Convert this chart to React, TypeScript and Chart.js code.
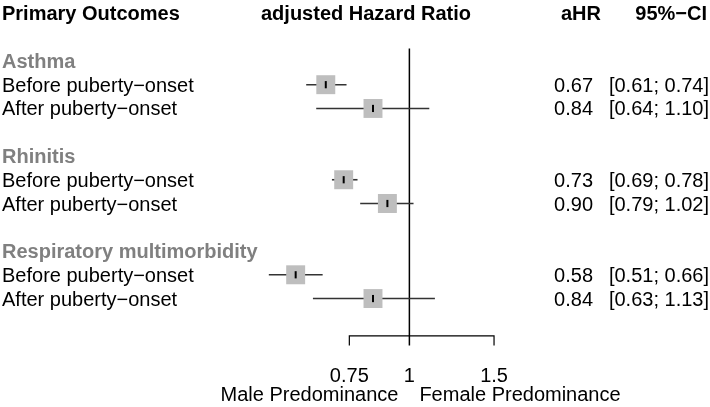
import React, { useEffect, useRef } from 'react';
import { Chart, registerables } from 'chart.js';

Chart.register(...registerables);

// ---- data ----
const groupLabels = ['Asthma', 'Rhinitis', 'Respiratory multimorbidity'];
const subgroupLabels = ['Before puberty−onset', 'After puberty−onset'];
const hazardRatios = [0.67, 0.84, 0.73, 0.9, 0.58, 0.84];
const ciLower = [0.61, 0.64, 0.69, 0.79, 0.51, 0.63];
const ciUpper = [0.74, 1.1, 0.78, 1.02, 0.66, 1.13];
const axisTicks = [0.75, 1, 1.5];
const tickLabels = ['0.75', '1', '1.5'];
const headerLabels = ['Primary Outcomes', 'adjusted Hazard Ratio', 'aHR', '95%−CI'];
const leftAxisLabel = 'Male Predominance';
const rightAxisLabel = 'Female Predominance';

// ---- layout helpers ----
const FONT = '"Liberation Sans", Arial, Helvetica, sans-serif';
const rowOf = (i: number) => 4 * Math.floor(i / 2) + 3 + (i % 2);
const groupRow = (g: number) => 4 * g + 2;
const AXIS_ROW = 13.57;
const TICK_END_ROW = 13.98;
const REF_TOP_ROW = 1.48;
const ROW_PX = 24.16;
const ROW0_PX = 12.2;

const textPlugin = {
  id: 'forestText',
  afterDatasetsDraw(chart: any) {
    const ctx = chart.ctx;
    const xs = chart.scales.x;
    const ys = chart.scales.y;
    const yb = (r: number) => ys.getPixelForValue(r) + 7;
    ctx.save();
    ctx.textBaseline = 'alphabetic';
    // headers
    ctx.fillStyle = '#000';
    ctx.font = `bold 20px ${FONT}`;
    ctx.textAlign = 'left';
    ctx.fillText(headerLabels[0], 2, yb(0));
    ctx.fillText(headerLabels[1], 261, yb(0));
    ctx.fillText(headerLabels[2], 561, yb(0));
    ctx.textAlign = 'right';
    ctx.fillText(headerLabels[3], 707, yb(0));
    // group labels
    ctx.textAlign = 'left';
    ctx.fillStyle = '#808080';
    groupLabels.forEach((g, gi) => ctx.fillText(g, 2, yb(groupRow(gi))));
    // study rows
    ctx.font = `20px ${FONT}`;
    ctx.fillStyle = '#000';
    hazardRatios.forEach((v, i) => {
      const r = rowOf(i);
      ctx.textAlign = 'left';
      ctx.fillText(subgroupLabels[i % 2], 2, yb(r));
      ctx.textAlign = 'right';
      ctx.fillText(v.toFixed(2), 593, yb(r));
      ctx.fillText(`[${ciLower[i].toFixed(2)}; ${ciUpper[i].toFixed(2)}]`, 709, yb(r));
    });
    // axis tick labels
    ctx.textAlign = 'center';
    axisTicks.forEach((t, k) => {
      ctx.fillText(tickLabels[k], xs.getPixelForValue(t), 382);
    });
    const x1 = xs.getPixelForValue(1);
    ctx.textAlign = 'right';
    ctx.fillText(leftAxisLabel, x1 - 11, 401);
    ctx.textAlign = 'left';
    ctx.fillText(rightAxisLabel, x1 + 10, 401);
    ctx.restore();
  },
};

export default function App() {
  const canvasRef = useRef<HTMLCanvasElement | null>(null);

  useEffect(() => {
    if (!canvasRef.current) return;
    const lineStyle = { showLine: true, pointRadius: 0, fill: false, clip: false };
    const ciSets = hazardRatios.map((_, i) => ({
      ...lineStyle,
      data: [
        { x: ciLower[i], y: rowOf(i) },
        { x: ciUpper[i], y: rowOf(i) },
      ],
      borderColor: '#333333',
      borderWidth: 1.6,
      order: 3,
    }));
    const refLine = {
      ...lineStyle,
      data: [
        { x: 1, y: REF_TOP_ROW },
        { x: 1, y: TICK_END_ROW },
      ],
      borderColor: '#000000',
      borderWidth: 1.5,
      order: 4,
    };
    const axisLine = {
      ...lineStyle,
      data: [
        { x: axisTicks[0], y: TICK_END_ROW },
        { x: axisTicks[0], y: AXIS_ROW },
        { x: axisTicks[2], y: AXIS_ROW },
        { x: axisTicks[2], y: TICK_END_ROW },
      ],
      borderColor: '#000000',
      borderWidth: 1.2,
      order: 4,
    };
    const squares = {
      data: hazardRatios.map((v, i) => ({ x: v, y: rowOf(i) })),
      pointStyle: 'rect',
      pointRadius: 13.4,
      backgroundColor: '#bebebe',
      borderWidth: 0,
      clip: false,
      order: 2,
    };
    const centers = {
      data: hazardRatios.map((v, i) => ({ x: v, y: rowOf(i) })),
      pointStyle: 'line',
      rotation: 90,
      pointRadius: 3.6,
      borderColor: '#000000',
      borderWidth: 2,
      clip: false,
      order: 1,
    };

    const yMin = 0;
    const yMax = 16;
    const padTop = ROW0_PX + ROW_PX * yMin;
    const padBottom = 407 - (ROW0_PX + ROW_PX * yMax);

    const chart = new Chart(canvasRef.current, {
      type: 'scatter',
      data: { datasets: [refLine, axisLine, ...ciSets, squares, centers] as any },
      options: {
        animation: false,
        responsive: true,
        maintainAspectRatio: false,
        events: [],
        layout: { padding: { left: 218.1, right: 177.9, top: padTop, bottom: padBottom } },
        plugins: { legend: { display: false }, tooltip: { enabled: false } },
        scales: {
          x: { type: 'logarithmic', min: 0.4, max: 1.8, display: false },
          y: {
            type: 'linear',
            min: yMin,
            max: yMax,
            reverse: true,
            display: false,
            ticks: { stepSize: 1 },
          },
        },
      },
      plugins: [textPlugin],
    } as any);
    return () => chart.destroy();
  }, []);

  return (
    <div style={{ position: 'fixed', left: 0, top: 0, width: 710, height: 407, background: '#fff' }}>
      <canvas ref={canvasRef} />
    </div>
  );
}
